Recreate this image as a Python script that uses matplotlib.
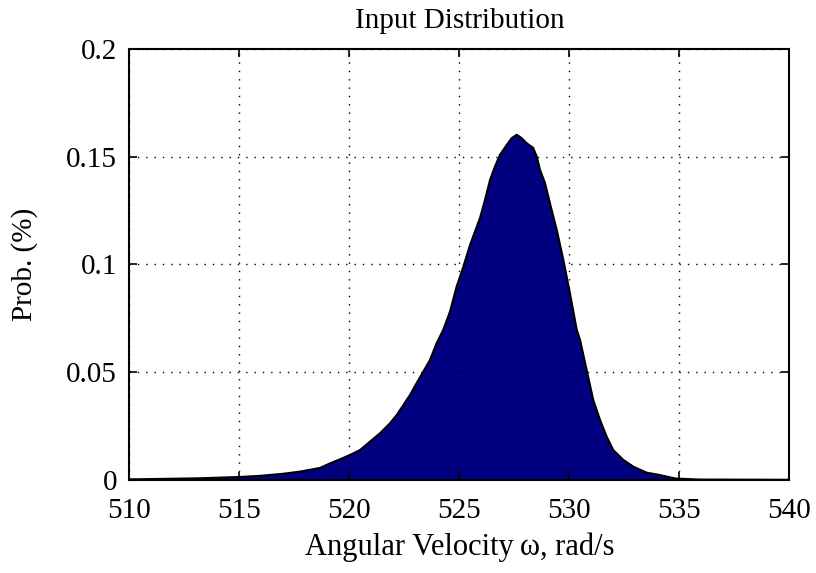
import numpy as np
import matplotlib
matplotlib.use('Agg')
import matplotlib.pyplot as plt

# histogram envelope (rad/s, prob.)
omega = [510.0, 511.4, 513.2, 515.0, 515.9, 517.0, 517.75, 518.66, 519.11, 519.57,
         520.02, 520.48, 520.93, 521.39, 521.84, 522.15, 522.45, 522.75, 523.05, 523.35,
         523.66, 523.96, 524.26, 524.57, 524.87, 525.18, 525.48, 525.93, 526.16, 526.39,
         526.61, 526.84, 527.15, 527.37, 527.60, 527.83, 528.05, 528.35, 528.51, 528.66,
         528.89, 529.11, 529.42, 529.72, 530.02, 530.33, 530.48, 530.78, 531.08, 531.39,
         531.69, 531.99, 532.45, 532.90, 533.51, 534.11, 534.8, 535.9, 540.0]
prob = [0.0003, 0.0005, 0.0008, 0.0014, 0.0019, 0.0029, 0.0039, 0.0056, 0.0077, 0.0096,
        0.0116, 0.0139, 0.0178, 0.0217, 0.0263, 0.0302, 0.0348, 0.0394, 0.0449, 0.0502,
        0.0557, 0.0634, 0.0696, 0.0781, 0.0897, 0.0990, 0.1090, 0.1214, 0.1299, 0.1392,
        0.1453, 0.1508, 0.1554, 0.1585, 0.1601, 0.1585, 0.1562, 0.1540, 0.1500, 0.1438,
        0.1376, 0.1284, 0.1160, 0.1021, 0.0866, 0.0696, 0.0650, 0.0510, 0.0371, 0.0278,
        0.0201, 0.0139, 0.0093, 0.0062, 0.0034, 0.0023, 0.0007, 0.0002, 0.0001]
xticks = [510, 515, 520, 525, 530, 535, 540]
yticks = [0, 0.05, 0.1, 0.15, 0.2]
yticklabels = ['0', '0.05', '0.1', '0.15', '0.2']

plt.rcParams['font.family'] = ['Liberation Serif', 'DejaVu Serif']

fig = plt.figure(figsize=(8.16, 5.73), dpi=100)
ax = fig.add_axes([0.1587, 0.1623, 0.8088, 0.7527])

ax.fill_between(omega, prob, 0, facecolor='#000080', edgecolor='none', zorder=2)
ax.plot(omega, prob, color='black', linewidth=1.5, zorder=3)

ax.set_xlim(510, 540)
ax.set_ylim(0, 0.2)
ax.set_xticks(xticks)
ax.set_yticks(yticks)
ax.set_yticklabels(yticklabels)
ax.tick_params(direction='in', top=True, right=True, labelsize=21, length=6, width=1.2)
ax.tick_params(axis='x', pad=13)
ax.tick_params(axis='y', pad=9)
ax.grid(True, linestyle=(0, (1, 5)), color='black', linewidth=1.0)
ax.set_axisbelow(False)
for s in ax.spines.values():
    s.set_linewidth(1.5)

ax.set_title('Input Distribution', fontsize=21, pad=15)
ax.set_xlabel('Angular Velocity\u2009ω, rad/s', fontsize=22, labelpad=6)
ax.set_ylabel('Prob. (%)', fontsize=21, labelpad=20)

fig.savefig('out.png', dpi=100)
